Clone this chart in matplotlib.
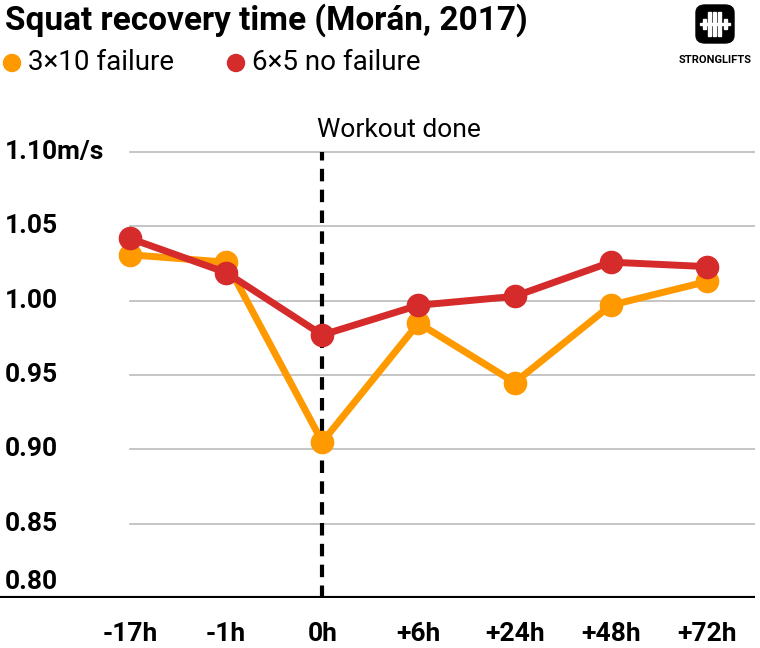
import matplotlib.pyplot as plt
from matplotlib.patches import FancyBboxPatch, Rectangle

categories = ['-17h', '-1h', '0h', '+6h', '+24h', '+48h', '+72h']
failure_3x10 = [1.031, 1.026, 0.905, 0.985, 0.945, 0.997, 1.013]
nofail_6x5 = [1.042, 1.019, 0.977, 0.997, 1.003, 1.026, 1.023]
yticks = [0.80, 0.85, 0.90, 0.95, 1.00, 1.05, 1.10]
ylabels = ['0.80', '0.85', '0.90', '0.95', '1.00', '1.05', '1.10m/s']

orange = '#ff9900'
red = '#d62b2b'
plt.rcParams['font.family'] = 'Roboto'

W, H = 760, 648
fig = plt.figure(figsize=(W / 100, H / 100), dpi=100)
ax = fig.add_axes([0, 50 / H, 755 / W, 1 - 50 / H - 100 / H])
unit = 96.2
x = list(range(len(categories)))
ax.set_xlim(-130 / unit, 6 + 48 / unit)
ax.set_ylim(0.80, 0.80 + 0.05 * (H - 50 - 100) / 74.3)
for s in ax.spines.values():
    s.set_visible(False)
ax.set_xticks([])
ax.set_yticks([])

for v in yticks[1:]:
    ax.plot([0, 6 + 48 / unit], [v, v], color='#bbbbbb', lw=1.2, zorder=1)
ax.axhline(0.80, color='black', lw=3, zorder=3)
for v, lab in zip(yticks, ylabels):
    yy = v + 0.011 if v == 0.80 else v
    ax.text(-125 / unit, yy, lab, ha='left', va='center', fontsize=19,
            fontweight='bold')
for i, c in zip(x, categories):
    ax.text(i, 0.80 - 0.024, c, ha='center', va='center', fontsize=19,
            fontweight='bold')

ax.plot([2, 2], [0.80, 1.10], color='black', lw=3, ls=(0, (3, 2)), zorder=2)
ax.text(2 - 5 / unit, 1.115, 'Workout done', ha='left', va='center', fontsize=19)

ax.plot(x, failure_3x10, color=orange, lw=5, marker='o', ms=16, zorder=4)
ax.plot(x, nofail_6x5, color=red, lw=5, marker='o', ms=16, zorder=5)

fig.text(5 / W, 1 - 20 / H, 'Squat recovery time (Morán, 2017)', fontsize=24,
         fontweight='bold', va='center')
lx = fig.add_axes([0, 0, 1, 1], facecolor='none')
lx.set_xlim(0, W)
lx.set_ylim(H, 0)
lx.axis('off')
lx.scatter([12, 236], [63, 63], s=150, color=[orange, red])
lx.text(28, 63, '3×10 failure', fontsize=20, va='center')
lx.text(252, 63, '6×5 no failure', fontsize=20, va='center')

# logo
fig.patches.append(FancyBboxPatch((696 / W, 1 - 43 / H), 38 / W, 38 / H,
                                  boxstyle='round,pad=0,rounding_size=0.012',
                                  transform=fig.transFigure, color='black'))
for rx, rw, rh in [(703, 3, 10), (708, 3, 24), (713, 3, 24), (718, 3, 24), (724, 3, 10)]:
    fig.patches.append(Rectangle((rx / W, 1 - (24 + rh / 2) / H), rw / W, rh / H,
                                 transform=fig.transFigure, color='white'))
fig.patches.append(Rectangle((700 / W, 1 - 25 / H), 30 / W, 2 / H,
                             transform=fig.transFigure, color='white'))
fig.text(715 / W, 1 - 60 / H, 'STRONGLIFTS', fontsize=8, fontweight='bold',
         ha='center', va='center')

fig.savefig('out.png', dpi=100)
